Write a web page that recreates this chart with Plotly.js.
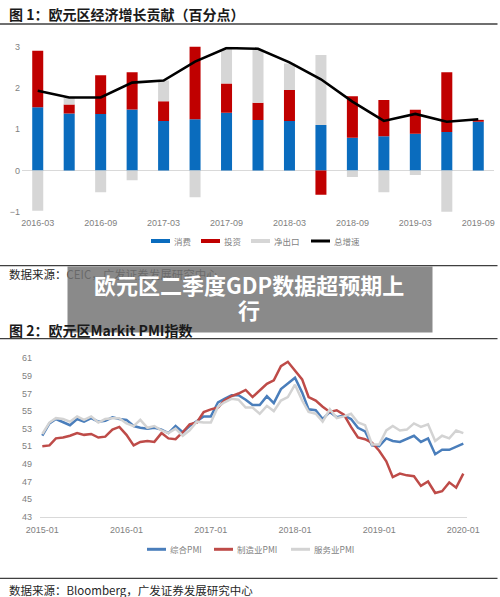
<!DOCTYPE html>
<html>
<head>
<meta charset="utf-8">
<script src="https://cdn.plot.ly/plotly-3.0.1.min.js"></script>
<style>
  html, body { margin: 0; padding: 0; background: #ffffff; }
  #chart { width: 500px; height: 597px; }
</style>
</head>
<body>
<div id="chart"></div>
<script>
// ---- 图1：欧元区经济增长贡献（百分点） ----
const quarters = ['2016-03','2016-06','2016-09','2016-12','2017-03','2017-06','2017-09','2017-12',
                  '2018-03','2018-06','2018-09','2018-12','2019-03','2019-06','2019-09'];
const quarterTicks = ['2016-03','2016-09','2017-03','2017-09','2018-03','2018-09','2019-03','2019-09'];
const consumption = [1.53, 1.38, 1.37, 1.48, 1.20, 1.24, 1.40, 1.22, 1.20, 1.10, 0.79, 0.83, 0.89, 0.93, 1.18];
const investment  = [1.37, 0.22, 0.94, 0.90, 0.48, 2.05, 0.71, 0.42, 0.75, -0.59, 1.01, 0.88, 0.58, 1.45, 0.04];
const netExports  = [-0.98, 0.17, -0.53, -0.24, 0.50, -0.65, 0.83, 1.29, 0.64, 1.70, -0.16, -0.53, -0.11, -1.20, 0.02];
const totalGrowth = [1.93, 1.77, 1.77, 2.13, 2.18, 2.64, 2.97, 2.95, 2.62, 2.21, 1.67, 1.20, 1.37, 1.18, 1.24];
const legend1Names = ['消费', '投资', '净出口', '总增速'];

// ---- 图2：欧元区Markit PMI指数（2015-01 至 2020-01，月度） ----
const compositePMI = [
  52.2, 53.6, 54.1, 53.7, 53.4, 54.1, 53.8, 54.2, 53.8, 53.9, 54.3, 54.1,
  54.0, 53.3, 53.1, 53.0, 53.1, 52.9, 52.5, 53.3, 52.6, 53.3, 53.9, 54.4,
  54.4, 56.0, 56.4, 56.8, 56.8, 56.3, 55.7, 55.7, 56.7, 55.9, 57.5, 58.1,
  58.8, 57.1, 55.2, 55.1, 54.1, 54.9, 54.3, 54.5, 54.1, 53.1, 52.7, 51.1,
  51.0, 51.9, 51.6, 51.5, 51.8, 52.2, 51.5, 51.9, 50.1, 50.6, 50.6, 50.9,
  51.3
];
const manufacturingPMI = [
  51.0, 51.1, 51.9, 52.0, 52.2, 52.5, 52.3, 52.4, 52.0, 52.1, 52.9, 53.2,
  52.3, 51.1, 51.5, 51.6, 51.5, 52.5, 51.9, 51.8, 52.6, 53.5, 53.7, 54.9,
  55.2, 55.4, 56.2, 56.7, 57.0, 57.4, 56.6, 57.4, 58.1, 58.5, 60.1, 60.6,
  59.6, 58.6, 56.6, 56.2, 55.5, 54.9, 55.1, 54.6, 53.2, 52.0, 51.8, 51.4,
  50.5, 49.3, 47.5, 47.9, 47.7, 47.6, 46.5, 47.0, 45.7, 45.9, 46.9, 46.3,
  47.9
];
const servicesPMI = [
  52.4, 53.7, 54.2, 54.1, 53.8, 54.4, 54.0, 54.4, 53.7, 54.1, 54.2, 54.2,
  53.6, 53.3, 54.0, 53.1, 53.3, 52.8, 52.5, 53.0, 52.2, 52.8, 53.8, 53.7,
  53.7, 55.5, 56.0, 56.4, 56.3, 55.4, 55.4, 54.7, 55.6, 55.0, 56.2, 56.6,
  58.0, 56.2, 54.9, 54.7, 53.8, 55.2, 54.2, 54.4, 54.7, 53.7, 53.4, 51.2,
  51.2, 52.8, 53.3, 52.8, 52.9, 53.6, 53.2, 53.5, 51.6, 52.2, 51.9, 52.8,
  52.5
];
const legend2Names = ['综合PMI', '制造业PMI', '服务业PMI'];

// month stamps for the PMI series, one per value
const months = compositePMI.map((_, i) => {
  const y = 2015 + Math.floor(i / 12);
  const m = (i % 12) + 1;
  return y + '-' + String(m).padStart(2, '0') + '-01';
});

// page geometry helpers (pixel -> paper fraction)
const W = 500, H = 597;
const fx = x => x / W;
const fy = y => 1 - y / H;

const tickFont = { family: 'Liberation Sans, Arial, sans-serif', size: 9, color: '#7f7f7f' };
const cjk = 'Noto Sans CJK SC, sans-serif';

const colors = { cons: '#0A6CBE', inv: '#C00000', net: '#D6D6D6', total: '#000000',
                 comp: '#4A7EBB', manu: '#BE4B48', serv: '#D3D3D3' };

const data = [
  // stacked contributions
  { type: 'bar', x: quarters, y: consumption, marker: { color: colors.cons }, xaxis: 'x', yaxis: 'y', name: legend1Names[0] },
  { type: 'bar', x: quarters, y: investment,  marker: { color: colors.inv },  xaxis: 'x', yaxis: 'y', name: legend1Names[1] },
  { type: 'bar', x: quarters, y: netExports,  marker: { color: colors.net },  xaxis: 'x', yaxis: 'y', name: legend1Names[2] },
  { type: 'scatter', mode: 'lines', x: quarters, y: totalGrowth, name: legend1Names[3],
    line: { color: colors.total, width: 2.6 }, xaxis: 'x', yaxis: 'y' },

  // PMI lines
  { type: 'scatter', mode: 'lines', x: months, y: compositePMI, name: legend2Names[0],
    line: { color: colors.comp, width: 2.5 }, xaxis: 'x2', yaxis: 'y2' },
  { type: 'scatter', mode: 'lines', x: months, y: manufacturingPMI, name: legend2Names[1],
    line: { color: colors.manu, width: 2.5 }, xaxis: 'x2', yaxis: 'y2' },
  { type: 'scatter', mode: 'lines', x: months, y: servicesPMI, name: legend2Names[2],
    line: { color: colors.serv, width: 2.5 }, xaxis: 'x2', yaxis: 'y2' }
];

const rule = y => ({ type: 'line', xref: 'paper', yref: 'paper', x0: 0, x1: 0.995, y0: fy(y), y1: fy(y),
                     line: { color: '#3f3f3f', width: 1.3 } });

// compact legend keys: a short stroke followed by its label
const legendKeys = [];
const legendLabels = [];
function addKey(x0, y, color, width, label) {
  legendKeys.push({ type: 'line', xref: 'paper', yref: 'paper', x0: fx(x0), x1: fx(x0 + 19),
                    y0: fy(y), y1: fy(y), line: { color: color, width: width } });
  legendLabels.push({ xref: 'paper', yref: 'paper', x: fx(x0 + 22), y: fy(y), xanchor: 'left', yanchor: 'middle',
                      showarrow: false, borderpad: 0, text: label,
                      font: { family: cjk, size: 8.5, color: '#7f7f7f' } });
}
addKey(151, 241, colors.cons, 4, legend1Names[0]);
addKey(201, 241, colors.inv, 4, legend1Names[1]);
addKey(251, 241, colors.net, 4, legend1Names[2]);
addKey(311, 241, colors.total, 3, legend1Names[3]);
addKey(147, 549.3, colors.comp, 3, legend2Names[0]);
addKey(214, 549.3, colors.manu, 3, legend2Names[1]);
addKey(291, 549.3, colors.serv, 3, legend2Names[2]);

const layout = {
  width: W, height: H,
  margin: { l: 0, r: 0, t: 0, b: 0 },
  paper_bgcolor: '#ffffff', plot_bgcolor: '#ffffff',
  showlegend: false,
  barmode: 'relative',
  bargap: 0.65,
  xaxis: {
    domain: [fx(22), fx(494)], anchor: 'y', type: 'category', range: [-0.5, 14.5],
    tickmode: 'array', tickvals: quarterTicks, ticktext: quarterTicks,
    showgrid: false, zeroline: false, showline: false, ticks: '',
    tickfont: tickFont, ticklabelstandoff: 4, fixedrange: true
  },
  yaxis: {
    domain: [fy(211.7), fy(46.7)], anchor: 'x', range: [-1, 3], dtick: 1, tick0: 0,
    showgrid: false, zeroline: true, zerolinecolor: '#d9d9d9', zerolinewidth: 1,
    showline: false, ticks: '', tickfont: tickFont, ticklabelstandoff: 1, fixedrange: true
  },
  xaxis2: {
    domain: [fx(40), fx(467)], anchor: 'y2', type: 'date', range: ['2014-12-22', '2020-01-17'],
    tick0: '2015-01-01', dtick: 'M12', tickformat: '%Y-%m',
    showgrid: false, zeroline: false, showline: true, linecolor: '#d9d9d9', linewidth: 1,
    ticks: '', tickfont: tickFont, ticklabelstandoff: 4, fixedrange: true
  },
  yaxis2: {
    domain: [fy(516.7), fy(358.3)], anchor: 'x2', range: [43, 61], dtick: 2, tick0: 43,
    showgrid: false, zeroline: false, showline: false, ticks: '',
    tickfont: tickFont, ticklabelstandoff: 7, fixedrange: true
  },
  shapes: [rule(24), rule(265.7), rule(338.7), rule(578.3)].concat(legendKeys),
  annotations: legendLabels.concat([
    { xref: 'paper', yref: 'paper', x: fx(8), y: fy(13.8), xanchor: 'left', yanchor: 'middle',
      showarrow: false, borderpad: 0, text: '图 1：欧元区经济增长贡献（百分点）',
      font: { family: cjk, size: 14, color: '#1a1a1a', weight: 700 } },
    { xref: 'paper', yref: 'paper', x: fx(8), y: fy(274), xanchor: 'left', yanchor: 'middle',
      showarrow: false, borderpad: 0, text: '数据来源：CEIC，广发证券发展研究中心',
      font: { family: cjk, size: 11.5, color: '#262626' } },
    // translucent headline banner
    { xref: 'paper', yref: 'paper', x: fx(67), y: fy(265.7), xanchor: 'left', yanchor: 'top',
      showarrow: false, width: 364, height: 65, borderpad: 0,
      bgcolor: 'rgba(118,118,118,0.85)', text: '&nbsp;',
      font: { family: cjk, size: 10, color: '#ffffff' } },
    { xref: 'paper', yref: 'paper', x: fx(249), y: fy(284), xanchor: 'center', yanchor: 'middle',
      showarrow: false, borderpad: 0, text: '欧元区二季度GDP数据超预期上',
      font: { family: cjk, size: 22, color: '#ffffff', weight: 700 } },
    { xref: 'paper', yref: 'paper', x: fx(249), y: fy(308.5), xanchor: 'center', yanchor: 'middle',
      showarrow: false, borderpad: 0, text: '行',
      font: { family: cjk, size: 22, color: '#ffffff', weight: 700 } },
    { xref: 'paper', yref: 'paper', x: fx(8), y: fy(329.5), xanchor: 'left', yanchor: 'middle',
      showarrow: false, borderpad: 0, text: '图 2：欧元区Markit PMI指数',
      font: { family: cjk, size: 14, color: '#1a1a1a', weight: 700 } },
    { xref: 'paper', yref: 'paper', x: fx(8), y: fy(590), xanchor: 'left', yanchor: 'middle',
      showarrow: false, borderpad: 0, text: '数据来源：Bloomberg，广发证券发展研究中心',
      font: { family: cjk, size: 11.5, color: '#262626' } }
  ])
};

Plotly.newPlot('chart', data, layout, { staticPlot: true, displayModeBar: false });
</script>
</body>
</html>
